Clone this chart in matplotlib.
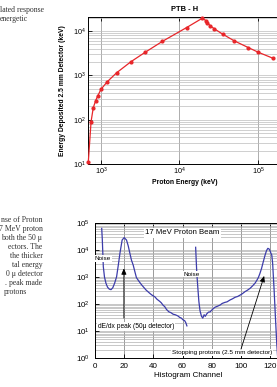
import matplotlib
matplotlib.use('Agg')
import matplotlib.pyplot as plt
from matplotlib.ticker import LogLocator, NullFormatter, FixedLocator

# ---------------- data ----------------
energy_kev = [689, 747, 797, 855, 908, 1000, 1203, 1585, 2410, 3630, 6040, 12300,
              19500, 21800, 22600, 24500, 27500, 35600, 50000, 75200, 100000, 154000]
edep_kev = [11, 90, 186, 270, 343, 485, 721, 1150, 2040, 3300, 5850, 12000,
            19500, 17200, 15500, 13300, 11400, 8500, 6000, 4250, 3350, 2450]

chan_a = [4.6, 5.0, 5.7, 6.5, 7.5, 8.6, 9.8, 11.0, 12.2, 13.5, 14.8, 16.0, 17.1, 18.6,
          20.0, 21.6, 22.8, 23.9, 25.0, 26.2, 27.3, 28.4, 30.0, 31.5, 33.0, 35.0, 37.5,
          39.0, 41.0, 42.5, 44.4, 45.5, 46.6, 47.8, 49.0, 50.7, 52.0, 53.5, 55.0, 56.9,
          58.0, 59.2, 60.3, 61.5, 62.3, 63.0]
counts_a = [63000, 25000, 2400, 1000, 590, 420, 355, 340, 400, 600, 1020, 2800, 7600, 23400,
            28800, 23400, 14100, 7600, 4200, 2750, 1600, 950, 710, 550, 440, 330, 250,
            215, 185, 150, 125, 110, 91, 80, 63, 51, 48, 42, 40, 36,
            32, 30, 26, 24, 20, 15.5]

chan_b = [69.0, 69.4, 69.8, 70.5, 71.2, 72.0, 73.0, 73.9, 74.8, 75.6, 76.6, 77.8, 78.9,
          80.5, 82.3, 84.0, 85.7, 87.2, 89.1, 90.5, 92.6, 94.2, 96.1, 97.8, 99.5, 101.0,
          102.9, 104.5, 106.3, 108.0, 109.7, 111.0, 112.0, 113.0, 114.2, 115.3, 116.6,
          117.6, 118.5, 119.3, 120.0, 120.6, 121.2, 121.8, 122.3, 122.8, 123.7, 124.6, 125.5]
counts_b = [12600, 4000, 1380, 400, 126, 56, 35, 30, 40, 35, 43, 50, 51,
            63, 76, 83, 91, 105, 115, 120, 141, 155, 178, 190, 214, 240,
            288, 324, 380, 468, 589, 760, 955, 1320, 2090, 3550, 6460,
            9550, 11500, 11000, 9300, 7600, 6460, 3160, 1000, 330, 32, 3.5, 0.63]

hist_xticks = [0, 20, 40, 60, 80, 100, 120]

left_top_lines = ["lated response", "energetic"]
left_bottom_lines = ["nse of Proton", "7 MeV proton", "both the 50 \u03bc", "ectors. The",
                     "the thicker", "tal energy", "0 \u03bc detector", ". peak made", "protons"]

# ---------------- figure ----------------
W, H = 277, 387
fig = plt.figure(figsize=(W / 100, H / 100), dpi=100)
fig.patch.set_facecolor('white')
sans = ['Liberation Sans', 'DejaVu Sans']
serif = ['Liberation Serif', 'DejaVu Serif']


def px(x0, y_top, w, h):
    return [x0 / W, 1 - (y_top + h) / H, w / W, h / H]


# left paper text
for i, t in enumerate(left_top_lines):
    fig.text(0 / W, 1 - (10 + 9 * i) / H, t, ha='left', va='center',
             family=serif, fontsize=5.6, color='#333333')
for i, t in enumerate(left_bottom_lines):
    y = 1 - (220 + 9 * i) / H
    if i == len(left_bottom_lines) - 1:
        fig.text(4 / W, y, t, ha='left', va='center', family=serif, fontsize=5.6, color='#333333')
    else:
        fig.text(42.5 / W, y, t, ha='right', va='center', family=serif, fontsize=5.6, color='#333333')

# ---------------- top chart ----------------
ax1 = fig.add_axes(px(88, 17, 194, 147))
ax1.set_xscale('log')
ax1.set_yscale('log')
ax1.plot(energy_kev, edep_kev, color='#e8262a', lw=0.9, marker='o', ms=2.0,
         mfc='#e8262a', mec='#e8262a', clip_on=False, zorder=3)
ax1.set_xlim(683, 202200)
ax1.set_ylim(10, 20800)
ax1.xaxis.set_major_locator(LogLocator(base=10, numticks=10))
ax1.xaxis.set_minor_locator(LogLocator(base=10, subs=range(2, 10), numticks=20))
ax1.xaxis.set_minor_formatter(NullFormatter())
ax1.yaxis.set_major_locator(LogLocator(base=10, numticks=10))
ax1.yaxis.set_minor_locator(LogLocator(base=10, subs=range(2, 10), numticks=20))
ax1.yaxis.set_minor_formatter(NullFormatter())
ax1.grid(True, which='major', axis='x', color='#a0a0a0', lw=0.6)
ax1.grid(True, which='both', axis='y', color='#bcbcbc', lw=0.5)
ax1.tick_params(which='major', direction='in', length=3, width=0.6, top=True,
                labelsize=5.2, pad=1.5)
ax1.tick_params(which='minor', length=0)
for lab in ax1.get_xticklabels() + ax1.get_yticklabels():
    lab.set_family(sans)
for s in ax1.spines.values():
    s.set_linewidth(0.7)
ax1.set_title('PTB - H', family=sans, fontsize=5.4, fontweight='bold', pad=4)
ax1.set_xlabel('Proton Energy (keV)', family=sans, fontsize=4.9, fontweight='bold', labelpad=1.5)
ax1.set_ylabel('Energy Deposited 2.5 mm Detector (keV)', family=sans, fontsize=4.9,
               fontweight='bold', labelpad=5)
ax1.set_axisbelow(True)

# ---------------- bottom chart ----------------
ax2 = fig.add_axes(px(95, 223, 186.7, 135))
ax2.set_yscale('log')
ax2.plot(chan_a, counts_a, color='#3c3caa', lw=0.9)
ax2.plot(chan_b, counts_b, color='#3c3caa', lw=0.9)
ax2.set_xlim(0, 128)
ax2.set_ylim(1, 1e5)
ax2.xaxis.set_major_locator(FixedLocator(hist_xticks))
ax2.yaxis.set_major_locator(LogLocator(base=10, numticks=10))
ax2.yaxis.set_minor_locator(LogLocator(base=10, subs=range(2, 10), numticks=20))
ax2.yaxis.set_minor_formatter(NullFormatter())
ax2.grid(True, which='major', axis='x', color='#8a8a8a', lw=0.6)
ax2.grid(True, which='both', axis='y', color='#b0b0b0', lw=0.5)
ax2.tick_params(which='major', direction='in', length=3, width=0.6, top=True,
                labelsize=5.8, pad=3.5)
ax2.tick_params(which='minor', length=0)
for lab in ax2.get_xticklabels() + ax2.get_yticklabels():
    lab.set_family(sans)
for s in ax2.spines.values():
    s.set_linewidth(0.7)
ax2.set_xlabel('Histogram Channel', family=sans, fontsize=5.8, labelpad=1.5)
ax2.set_axisbelow(True)

box = dict(boxstyle='square,pad=0.15', fc='white', ec='none')
ax2.text(60, 10**4.63, '17 MeV Proton Beam', ha='center', va='center', family=sans,
         fontsize=5.6, bbox=box, zorder=4)
ax2.text(5.1, 10**3.70, 'Noise', ha='center', va='center', family=sans, fontsize=4.6,
         bbox=box, zorder=4)
ax2.text(66.5, 10**3.11, 'Noise', ha='center', va='center', family=sans, fontsize=4.6,
         bbox=box, zorder=4)
ax2.text(2.0, 10**1.15, 'dE/dx peak (50\u03bc detector)', ha='left', va='center',
         family=sans, fontsize=4.8, bbox=box, zorder=4)
ax2.text(121.4, 10**0.19, 'Stopping protons (2.5 mm detector)', ha='right', va='center',
         family=sans, fontsize=4.6, bbox=box, zorder=4)

arrow = dict(arrowstyle='-|>,head_length=0.35,head_width=0.15', color='black', lw=0.6,
             shrinkA=0, shrinkB=0)
ax2.annotate('', xy=(19.8, 10**3.32), xytext=(19.8, 10**1.48), arrowprops=arrow, zorder=5)
ax2.annotate('', xy=(116.0, 10**3.04), xytext=(100.1, 10**0.33), arrowprops=arrow, zorder=5)

fig.savefig('out.png', dpi=100, facecolor='white')
